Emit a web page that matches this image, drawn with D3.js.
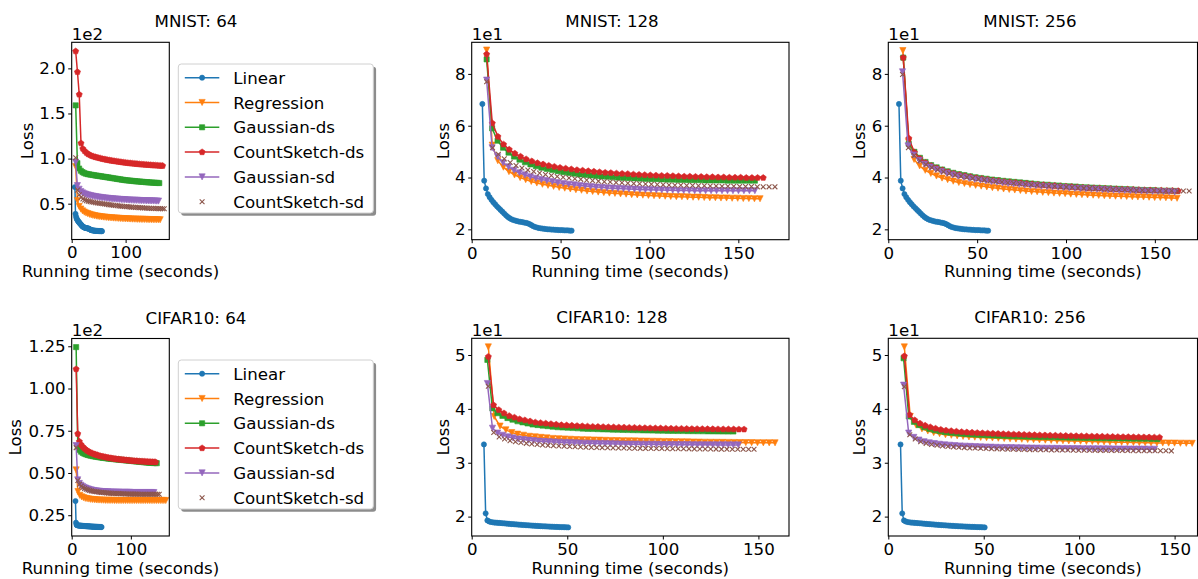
<!DOCTYPE html>
<html>
<head>
<meta charset="utf-8">
<script src="https://cdn.jsdelivr.net/npm/d3@7"></script>
<style>
  body { margin: 0; background: #fff; }
  svg text { font-family: "DejaVu Sans", sans-serif; fill: #000; }
</style>
</head>
<body>
<svg id="fig" width="1198" height="579"></svg>
<script>
// method names, in plotting order
const METHODS = ["Linear", "Regression", "Gaussian-ds", "CountSketch-ds", "Gaussian-sd", "CountSketch-sd"];

// loss per epoch (50 epochs)
const MNIST_LINEAR = [68.4,38.8,35.8,33.6,32.4,31.4,30.5,29.7,28.9,28.2,27.5,26.8,26.1,25.4,24.8,24.3,23.9,23.6,23.4,23.2,23.0,22.9,22.8,22.6,22.5,22.3,22.0,21.6,21.2,20.9,20.7,20.5,20.4,20.3,20.2,20.1,20.0,20.0,19.9,19.9,19.8,19.8,19.7,19.7,19.7,19.6,19.6,19.6,19.5,19.5];
const CIFAR_LINEAR = [33.4,20.6,19.3,19.1,19.0,18.95,18.9,18.88,18.85,18.82,18.8,18.77,18.74,18.71,18.68,18.65,18.62,18.6,18.57,18.54,18.52,18.49,18.47,18.44,18.42,18.4,18.38,18.35,18.33,18.31,18.29,18.27,18.25,18.23,18.21,18.2,18.18,18.16,18.15,18.13,18.12,18.1,18.09,18.08,18.06,18.05,18.04,18.03,18.02,18.0];

const MNIST64_REG = [91,53.5,47,44,42,40.7,39.7,38.9,38.2,37.6,37.1,36.7,36.3,36.0,35.7,35.4,35.2,35.0,34.8,34.6,34.4,34.3,34.1,34.0,33.9,33.7,33.6,33.5,33.4,33.3,33.2,33.1,33.0,32.9,32.9,32.8,32.7,32.7,32.6,32.6,32.5,32.5,32.4,32.4,32.3,32.3,32.3,32.2,32.2,32.2];
const MNIST64_GDS = [159,95,89,86.5,85,84,83.3,82.8,82.4,82.1,81.8,81.5,81.2,80.9,80.6,80.3,80.0,79.7,79.4,79.1,78.8,78.5,78.2,77.9,77.6,77.3,77.0,76.7,76.4,76.1,75.9,75.7,75.5,75.3,75.1,74.9,74.7,74.6,74.4,74.2,74.1,73.9,73.8,73.6,73.5,73.4,73.2,73.1,73.0,72.9];
const MNIST64_CDS = [219,196,171,117,111,108.5,106.5,105,104,103,102.3,101.7,101.2,100.7,100.2,99.7,99.3,98.9,98.5,98.1,97.8,97.5,97.2,96.9,96.6,96.3,96.0,95.7,95.5,95.2,95.0,94.8,94.6,94.4,94.2,94.0,93.8,93.6,93.5,93.3,93.2,93.0,92.9,92.7,92.6,92.5,92.3,92.2,92.1,92.0];
const MNIST64_GSD = [96,70,66,63.5,62,61,60.3,59.7,59.2,58.8,58.4,58.0,57.7,57.4,57.1,56.8,56.6,56.3,56.1,55.9,55.7,55.5,55.3,55.2,55.0,54.9,54.7,54.6,54.5,54.4,54.2,54.1,54.0,53.9,53.8,53.7,53.7,53.6,53.5,53.4,53.4,53.3,53.2,53.2,53.1,53.1,53.0,53.0,52.9,52.9];
const MNIST64_CSD = [101,65,60,57,55.3,54.2,53.4,52.8,52.3,51.9,51.5,51.1,50.8,50.5,50.2,49.9,49.6,49.3,49.0,48.7,48.5,48.2,48.0,47.8,47.5,47.3,47.1,46.9,46.7,46.6,46.4,46.2,46.1,45.9,45.8,45.6,45.5,45.4,45.3,45.2,45.0,44.9,44.8,44.8,44.7,44.6,44.5,44.5,44.4,44.4];

const MNIST128_REG = [89.2,52.5,46.5,44.0,42.3,41.0,40.0,39.2,38.5,37.9,37.4,37.0,36.6,36.2,35.9,35.6,35.3,35.1,34.8,34.6,34.4,34.2,34.0,33.9,33.7,33.6,33.4,33.3,33.2,33.1,33.0,32.9,32.8,32.7,32.6,32.6,32.5,32.4,32.4,32.3,32.2,32.2,32.1,32.1,32.0,32.0,31.9,31.9,31.8,31.8];
const MNIST128_GDS = [85.6,59,54.2,51.5,49.6,48.1,46.9,45.9,45.1,44.4,43.8,43.3,42.9,42.5,42.1,41.8,41.5,41.2,41.0,40.8,40.6,40.4,40.3,40.1,40.0,39.9,39.8,39.7,39.6,39.5,39.4,39.4,39.3,39.2,39.2,39.1,39.1,39.0,39.0,39.0,38.9,38.9,38.9,38.9,38.8,38.8,38.8,38.8,38.8,38.8];
const MNIST128_CDS = [87.6,61,55.8,52.8,50.8,49.3,48.1,47.1,46.3,45.6,45.1,44.6,44.2,43.8,43.5,43.2,42.9,42.7,42.5,42.3,42.1,41.9,41.8,41.6,41.5,41.4,41.2,41.1,41.0,40.9,40.8,40.7,40.7,40.6,40.5,40.4,40.4,40.3,40.3,40.2,40.2,40.1,40.1,40.0,40.0,40.0,39.9,39.9,39.9,39.9];
const MNIST128_GSD = [77.6,51.5,48.0,45.7,44.1,42.8,41.8,41.0,40.3,39.7,39.2,38.8,38.4,38.0,37.7,37.4,37.2,36.9,36.7,36.5,36.3,36.2,36.0,35.9,35.8,35.7,35.6,35.5,35.4,35.3,35.3,35.2,35.2,35.1,35.1,35.0,35.0,35.0,34.9,34.9,34.9,34.9,34.9,34.9,34.9,34.9,34.9,34.9,34.9,34.9];
const MNIST128_CSD = [77,51.5,49.0,47.2,45.8,44.6,43.7,42.9,42.3,41.7,41.2,40.8,40.4,40.1,39.8,39.5,39.3,39.0,38.8,38.6,38.4,38.3,38.1,38.0,37.8,37.7,37.6,37.5,37.4,37.3,37.2,37.1,37.0,37.0,36.9,36.9,36.8,36.8,36.7,36.7,36.6,36.6,36.6,36.5,36.5,36.5,36.4,36.4,36.4,36.4];

const MNIST256_REG = [89,53.8,47,44.5,42.8,41.6,40.6,39.8,39.2,38.6,38.1,37.7,37.3,37.0,36.7,36.4,36.1,35.9,35.6,35.4,35.2,35.0,34.8,34.6,34.5,34.3,34.2,34.0,33.9,33.8,33.6,33.5,33.4,33.3,33.2,33.1,33.0,32.9,32.8,32.8,32.7,32.6,32.5,32.5,32.4,32.3,32.3,32.2,32.1,32.0];
const MNIST256_GDS = [86.3,53,49.9,47.6,46.0,44.8,43.9,43.1,42.4,41.8,41.3,40.9,40.5,40.1,39.8,39.5,39.2,39.0,38.7,38.5,38.3,38.1,37.9,37.7,37.5,37.3,37.2,37.0,36.9,36.7,36.6,36.5,36.3,36.2,36.1,36.0,35.9,35.8,35.7,35.6,35.5,35.4,35.3,35.2,35.1,35.1,35.0,34.9,34.9,34.8];
const MNIST256_CDS = [86.3,55.1,49.7,47.3,45.7,44.5,43.6,42.8,42.1,41.5,41.0,40.6,40.2,39.8,39.5,39.2,38.9,38.7,38.4,38.2,38.0,37.8,37.6,37.4,37.2,37.1,36.9,36.8,36.6,36.5,36.4,36.2,36.1,36.0,35.9,35.8,35.7,35.6,35.5,35.4,35.4,35.3,35.2,35.1,35.1,35.0,35.0,34.9,34.9,34.8];
const MNIST256_GSD = [80.8,52.2,48.7,46.6,45.1,44.0,43.1,42.3,41.6,41.0,40.5,40.1,39.7,39.3,39.0,38.7,38.4,38.2,37.9,37.7,37.5,37.3,37.1,36.9,36.8,36.6,36.5,36.3,36.2,36.1,35.9,35.8,35.7,35.6,35.5,35.4,35.3,35.2,35.1,35.0,35.0,34.9,34.8,34.8,34.7,34.6,34.6,34.5,34.5,34.4];
const MNIST256_CSD = [79.8,51.5,48.5,46.5,45.0,43.9,43.0,42.2,41.6,41.0,40.5,40.1,39.7,39.4,39.1,38.8,38.5,38.3,38.0,37.8,37.6,37.4,37.2,37.1,36.9,36.7,36.6,36.4,36.3,36.2,36.0,35.9,35.8,35.7,35.6,35.5,35.4,35.3,35.3,35.2,35.1,35.1,35.0,35.0,34.9,34.9,34.9,34.8,34.8,34.8];

const CIFAR64_REG = [51.8,39.0,36.8,35.9,35.4,35.0,34.8,34.6,34.4,34.3,34.2,34.1,34.0,34.0,33.9,33.9,33.8,33.8,33.8,33.8,33.8,33.7,33.7,33.7,33.7,33.7,33.7,33.7,33.7,33.7,33.7,33.7,33.7,33.7,33.7,33.7,33.7,33.7,33.7,33.7,33.7,33.7,33.7,33.7,33.7,33.7,33.7,33.7,33.7,33.7];
const CIFAR64_GDS = [124.5,65.6,63.6,62.6,61.9,61.4,61.0,60.7,60.4,60.2,60.0,59.8,59.6,59.5,59.3,59.2,59.0,58.9,58.8,58.6,58.5,58.4,58.3,58.2,58.1,58.0,57.9,57.8,57.7,57.6,57.5,57.4,57.3,57.2,57.1,57.0,56.9,56.8,56.7,56.6,56.5,56.4,56.3,56.2,56.1,56.0,56.0,55.9,55.9,55.8];
const CIFAR64_CDS = [111.5,73.2,68.6,66.8,65.6,64.6,63.8,63.1,62.5,62.0,61.6,61.2,60.9,60.6,60.3,60.0,59.8,59.6,59.4,59.2,59.0,58.8,58.7,58.5,58.4,58.2,58.1,58.0,57.9,57.8,57.7,57.6,57.5,57.4,57.3,57.2,57.1,57.1,57.0,56.9,56.9,56.8,56.8,56.7,56.7,56.6,56.6,56.5,56.5,56.4];
const CIFAR64_GSD = [66.2,45.9,43.8,42.7,42.0,41.4,41.0,40.6,40.3,40.0,39.8,39.6,39.4,39.3,39.2,39.1,39.0,38.9,38.9,38.8,38.8,38.7,38.7,38.7,38.6,38.6,38.6,38.6,38.5,38.5,38.5,38.5,38.5,38.5,38.5,38.4,38.4,38.4,38.4,38.4,38.4,38.4,38.4,38.4,38.4,38.4,38.4,38.4,38.4,38.4];
const CIFAR64_CSD = [65.0,45.5,43.3,42.2,41.4,40.8,40.4,40.0,39.7,39.4,39.2,39.0,38.9,38.7,38.6,38.5,38.4,38.3,38.2,38.1,38.1,38.0,37.9,37.9,37.8,37.8,37.7,37.7,37.7,37.6,37.6,37.6,37.5,37.5,37.5,37.5,37.5,37.4,37.4,37.4,37.4,37.4,37.4,37.4,37.4,37.4,37.4,37.4,37.4,37.4];

const CIFAR128_REG = [51.5,38.6,36.8,36.1,35.6,35.3,35.1,34.9,34.8,34.7,34.6,34.5,34.45,34.4,34.35,34.3,34.27,34.24,34.21,34.18,34.15,34.12,34.1,34.08,34.06,34.04,34.02,34.0,33.98,33.96,33.94,33.92,33.9,33.88,33.86,33.84,33.82,33.8,33.79,33.78,33.77,33.76,33.75,33.74,33.73,33.72,33.71,33.7,33.7,33.7];
const CIFAR128_GDS = [49.1,40.1,39.2,38.7,38.3,38.0,37.7,37.5,37.3,37.1,37.0,36.9,36.8,36.7,36.6,36.55,36.5,36.45,36.4,36.35,36.3,36.27,36.24,36.21,36.18,36.15,36.12,36.1,36.08,36.06,36.04,36.02,36.0,35.98,35.96,35.95,35.93,35.92,35.9,35.89,35.88,35.87,35.86,35.85,35.84,35.83,35.82,35.81,35.8,35.8];
const CIFAR128_CDS = [49.7,40.7,39.8,39.2,38.7,38.4,38.1,37.9,37.7,37.5,37.4,37.3,37.2,37.1,37.0,36.95,36.9,36.85,36.8,36.75,36.7,36.68,36.65,36.62,36.6,36.57,36.55,36.52,36.5,36.47,36.45,36.43,36.41,36.39,36.37,36.35,36.33,36.32,36.3,36.29,36.28,36.27,36.26,36.25,36.24,36.23,36.22,36.21,36.2,36.2];
const CIFAR128_GSD = [44.7,36.4,35.5,35.1,34.8,34.6,34.4,34.3,34.2,34.1,34.0,33.95,33.9,33.85,33.8,33.76,33.72,33.68,33.65,33.62,33.6,33.58,33.56,33.54,33.52,33.5,33.48,33.46,33.45,33.44,33.43,33.42,33.41,33.4,33.39,33.38,33.37,33.36,33.35,33.35,33.34,33.33,33.33,33.32,33.32,33.31,33.31,33.3,33.3,33.3];
const CIFAR128_CSD = [44.2,35.6,34.8,34.4,34.1,33.9,33.75,33.6,33.5,33.4,33.3,33.22,33.15,33.1,33.05,33.0,32.96,32.92,32.88,32.85,32.82,32.8,32.78,32.76,32.74,32.72,32.7,32.68,32.67,32.66,32.65,32.64,32.63,32.62,32.61,32.6,32.59,32.58,32.57,32.56,32.55,32.54,32.53,32.52,32.52,32.51,32.51,32.5,32.5,32.5];

const CIFAR256_REG = [51.5,38.6,37.0,36.3,35.9,35.6,35.4,35.2,35.1,35.0,34.9,34.8,34.75,34.7,34.65,34.6,34.55,34.5,34.45,34.4,34.36,34.32,34.28,34.24,34.2,34.16,34.12,34.08,34.05,34.02,34.0,33.97,33.94,33.91,33.88,33.85,33.82,33.8,33.78,33.76,33.74,33.72,33.7,33.68,33.66,33.65,33.64,33.62,33.61,33.6];
const CIFAR256_GDS = [49.4,38.6,37.6,37.0,36.6,36.3,36.05,35.85,35.7,35.58,35.48,35.4,35.33,35.27,35.22,35.17,35.13,35.09,35.05,35.01,34.98,34.95,34.92,34.89,34.86,34.83,34.8,34.78,34.76,34.74,34.72,34.7,34.68,34.66,34.64,34.62,34.6,34.58,34.57,34.56,34.54,34.53,34.52,34.5,34.49,34.48,34.46,34.45,34.44,34.4];
const CIFAR256_CDS = [49.8,38.9,37.9,37.3,36.9,36.6,36.35,36.15,36.0,35.9,35.8,35.72,35.65,35.6,35.55,35.5,35.46,35.42,35.38,35.34,35.3,35.27,35.24,35.21,35.18,35.15,35.12,35.1,35.07,35.05,35.02,35.0,34.98,34.96,34.94,34.92,34.9,34.88,34.86,34.84,34.82,34.8,34.79,34.78,34.76,34.75,34.74,34.72,34.71,34.7];
const CIFAR256_GSD = [44.4,35.5,34.7,34.2,33.9,33.7,33.55,33.42,33.32,33.24,33.17,33.11,33.06,33.02,32.98,32.94,32.91,32.88,32.85,32.83,32.81,32.79,32.77,32.75,32.73,32.72,32.7,32.69,32.67,32.66,32.65,32.64,32.63,32.62,32.61,32.6,32.59,32.58,32.57,32.56,32.56,32.55,32.54,32.54,32.53,32.52,32.52,32.51,32.5,32.5];
const CIFAR256_CSD = [44.1,35.2,34.4,33.9,33.6,33.4,33.25,33.12,33.02,32.94,32.87,32.81,32.76,32.72,32.68,32.64,32.61,32.58,32.55,32.52,32.5,32.48,32.46,32.44,32.42,32.41,32.4,32.38,32.37,32.36,32.35,32.34,32.33,32.32,32.31,32.3,32.3,32.29,32.28,32.27,32.27,32.26,32.25,32.25,32.24,32.23,32.23,32.22,32.21,32.2];

// first and last epoch timestamps (seconds) per method, same order as METHODS
const MNIST64_SPAN  = [[6.0,56.2],[7.4,164],[7.4,162.4],[7.4,168.6],[7.4,161],[7.4,171.6]];
const MNIST128_SPAN = [[6.0,56.2],[8.4,162.2],[8.4,159.3],[8.4,164],[8.4,159.3],[8.4,170.6]];
const MNIST256_SPAN = [[6.0,56.2],[8.2,162.5],[8.4,162],[8.4,163.1],[8.0,161.2],[8.0,169.3]];
const CIFAR64_SPAN  = [[6.4,50.5],[7.5,159],[7.5,143.8],[7.5,142],[7.5,139],[7.5,148]];
const CIFAR128_SPAN = [[6.4,50.5],[8.7,158.7],[8.2,136.9],[8.7,142.5],[8.2,139.5],[8.7,147.7]];
const CIFAR256_SPAN = [[6.4,50.5],[8.4,159.2],[8.0,141],[8.4,142.1],[8.0,139.5],[8.4,148.3]];

const COLORS = ["#1f77b4", "#ff7f0e", "#2ca02c", "#d62728", "#9467bd", "#8c564b"];
const MARKERS = ["circle", "tridown", "square", "pentagon", "tridown", "x"];

const FONT_SIZE = 16.67;

// panel layout (pixel boxes measured on the figure)
const panels = [
  { title: "MNIST: 64", titleX: 196, box: [71.7, 42.3, 169.3, 239.5], x: [0, 181], y: [10.3, 228.9],
    xTicks: [0, 100], yTicks: [50, 100, 150, 200], exp: 2, dec: 1, lossX: 33,
    series: [MNIST_LINEAR, MNIST64_REG, MNIST64_GDS, MNIST64_CDS, MNIST64_GSD, MNIST64_CSD], spans: MNIST64_SPAN, legendTop: 64 },
  { title: "MNIST: 128", titleX: 612, box: [471.7, 42.3, 789, 239.7], x: [0, 178.5], y: [16.0, 92.2],
    xTicks: [0, 50, 100, 150], yTicks: [20, 40, 60, 80], exp: 1, dec: 0, lossX: 448.5,
    series: [MNIST_LINEAR, MNIST128_REG, MNIST128_GDS, MNIST128_CDS, MNIST128_GSD, MNIST128_CSD], spans: MNIST128_SPAN },
  { title: "MNIST: 256", titleX: 1030, box: [888.3, 42.3, 1197.5, 239.7], x: [0, 174], y: [16.0, 92.2],
    xTicks: [0, 50, 100, 150], yTicks: [20, 40, 60, 80], exp: 1, dec: 0, lossX: 865,
    series: [MNIST_LINEAR, MNIST256_REG, MNIST256_GDS, MNIST256_CDS, MNIST256_GSD, MNIST256_CSD], spans: MNIST256_SPAN },
  { title: "CIFAR10: 64", titleX: 196, box: [71.7, 338.5, 169.3, 536], x: [0, 165], y: [12.7, 129.6],
    xTicks: [0, 100], yTicks: [25, 50, 75, 100, 125], exp: 2, dec: 2, lossX: 21,
    series: [CIFAR_LINEAR, CIFAR64_REG, CIFAR64_GDS, CIFAR64_CDS, CIFAR64_GSD, CIFAR64_CSD], spans: CIFAR64_SPAN, legendTop: 360 },
  { title: "CIFAR10: 128", titleX: 612, box: [471.7, 338.3, 789, 536], x: [0, 166], y: [16.4, 53.1],
    xTicks: [0, 50, 100, 150], yTicks: [20, 30, 40, 50], exp: 1, dec: 0, lossX: 448.5,
    series: [CIFAR_LINEAR, CIFAR128_REG, CIFAR128_GDS, CIFAR128_CDS, CIFAR128_GSD, CIFAR128_CSD], spans: CIFAR128_SPAN },
  { title: "CIFAR10: 256", titleX: 1030, box: [888.3, 338.3, 1197.5, 536], x: [0, 162], y: [16.4, 53.1],
    xTicks: [0, 50, 100, 150], yTicks: [20, 30, 40, 50], exp: 1, dec: 0, lossX: 865,
    series: [CIFAR_LINEAR, CIFAR256_REG, CIFAR256_GDS, CIFAR256_CDS, CIFAR256_GSD, CIFAR256_CSD], spans: CIFAR256_SPAN }
];

// marker shapes, centred on 0,0
function markerPath(type) {
  if (type === "circle") return d3.symbol(d3.symbolCircle, Math.PI * 2.6 * 2.6)();
  if (type === "square") { const a = 2.6; return `M${-a},${-a}H${a}V${a}H${-a}Z`; }
  if (type === "tridown") { const a = 3.1; return `M${-a},${-a}L${a},${-a}L0,${a}Z`; }
  if (type === "pentagon") {
    const r = 3.2;
    const pts = d3.range(5).map(k => {
      const ang = -Math.PI / 2 + k * 2 * Math.PI / 5;
      return [r * Math.cos(ang), r * Math.sin(ang)];
    });
    return "M" + pts.map(p => p.join(",")).join("L") + "Z";
  }
  const a = 2.4;
  return `M${-a},${-a}L${a},${a}M${-a},${a}L${a},${-a}`;
}

function drawMarkers(g, pts, i) {
  const type = MARKERS[i];
  const path = markerPath(type);
  g.selectAll(null)
    .data(pts)
    .join("path")
    .attr("d", path)
    .attr("transform", d => `translate(${d[0]},${d[1]})`)
    .attr("fill", type === "x" ? "none" : COLORS[i])
    .attr("stroke", COLORS[i])
    .attr("stroke-width", type === "x" ? 1.1 : 0.6);
}

const svg = d3.select("#fig");

panels.forEach((p, pi) => {
  const [x0, y0, x1, y1] = p.box;
  const xs = d3.scaleLinear().domain(p.x).range([x0, x1]);
  const ys = d3.scaleLinear().domain(p.y).range([y1, y0]);

  const clipId = "clip" + pi;
  svg.append("clipPath").attr("id", clipId)
    .append("rect").attr("x", x0).attr("y", y0).attr("width", x1 - x0).attr("height", y1 - y0);

  // axes
  const fmt = v => (v / Math.pow(10, p.exp)).toFixed(p.dec);
  const xAxis = svg.append("g").attr("transform", `translate(0,${y1})`)
    .call(d3.axisBottom(xs).tickValues(p.xTicks).tickFormat(d3.format("d")).tickSize(3.5).tickPadding(3.5));
  const yAxis = svg.append("g").attr("transform", `translate(${x0},0)`)
    .call(d3.axisLeft(ys).tickValues(p.yTicks).tickFormat(fmt).tickSize(3.5).tickPadding(2.5));
  [xAxis, yAxis].forEach(ax => {
    ax.select(".domain").remove();
    ax.selectAll(".tick line").attr("stroke", "#000").attr("stroke-width", 1);
    ax.selectAll(".tick text").attr("font-size", FONT_SIZE).attr("font-family", "DejaVu Sans").attr("fill", "#000");
  });

  // series
  const plot = svg.append("g").attr("clip-path", `url(#${clipId})`);
  p.series.forEach((vals, i) => {
    const [t0, t1] = p.spans[i];
    const tx = d3.scaleLinear().domain([0, vals.length - 1]).range([t0, t1]);
    const pts = vals.map((v, k) => [xs(tx(k)), ys(v)]);
    const g = plot.append("g");
    if (MARKERS[i] !== "x") {
      g.append("path")
        .attr("d", d3.line()(pts))
        .attr("fill", "none")
        .attr("stroke", COLORS[i])
        .attr("stroke-width", 1.5);
    }
    drawMarkers(g, pts, i);
  });

  // frame
  svg.append("rect")
    .attr("x", x0).attr("y", y0).attr("width", x1 - x0).attr("height", y1 - y0)
    .attr("fill", "none").attr("stroke", "#000").attr("stroke-width", 1.1);

  // labels
  svg.append("text").attr("x", p.titleX).attr("y", y0 - 15).attr("text-anchor", "middle")
    .attr("font-size", FONT_SIZE).text(p.title);
  svg.append("text").attr("x", x0).attr("y", y0 - 2.5)
    .attr("font-size", FONT_SIZE).text("1e" + p.exp);
  svg.append("text").attr("x", (x0 + x1) / 2).attr("y", y1 + 37.5).attr("text-anchor", "middle")
    .attr("font-size", FONT_SIZE).text("Running time (seconds)");
  svg.append("text")
    .attr("transform", `translate(${p.lossX},${(y0 + y1) / 2}) rotate(-90)`)
    .attr("text-anchor", "middle").attr("font-size", FONT_SIZE).text("Loss");

  // legend beside the small panels
  if (p.legendTop !== undefined) {
    const lx = 178.3, lw = 195, lh = 149, ly = p.legendTop;
    svg.append("rect").attr("x", lx + 2.8).attr("y", ly + 2.8).attr("width", lw).attr("height", lh)
      .attr("rx", 3).attr("fill", "#000").attr("opacity", 0.45);
    svg.append("rect").attr("x", lx).attr("y", ly).attr("width", lw).attr("height", lh)
      .attr("rx", 3).attr("fill", "#fff").attr("stroke", "#d0d0d0").attr("stroke-width", 1);
    METHODS.forEach((name, i) => {
      const cy = ly + 13.7 + i * 24.8;
      const row = svg.append("g");
      if (MARKERS[i] !== "x") {
        row.append("line").attr("x1", lx + 6.5).attr("x2", lx + 41).attr("y1", cy).attr("y2", cy)
          .attr("stroke", COLORS[i]).attr("stroke-width", 1.5);
      }
      drawMarkers(row, [[lx + 23.8, cy]], i);
      row.append("text").attr("x", lx + 55).attr("y", cy + 6)
        .attr("font-size", FONT_SIZE).text(name);
    });
  }
});
</script>
</body>
</html>
